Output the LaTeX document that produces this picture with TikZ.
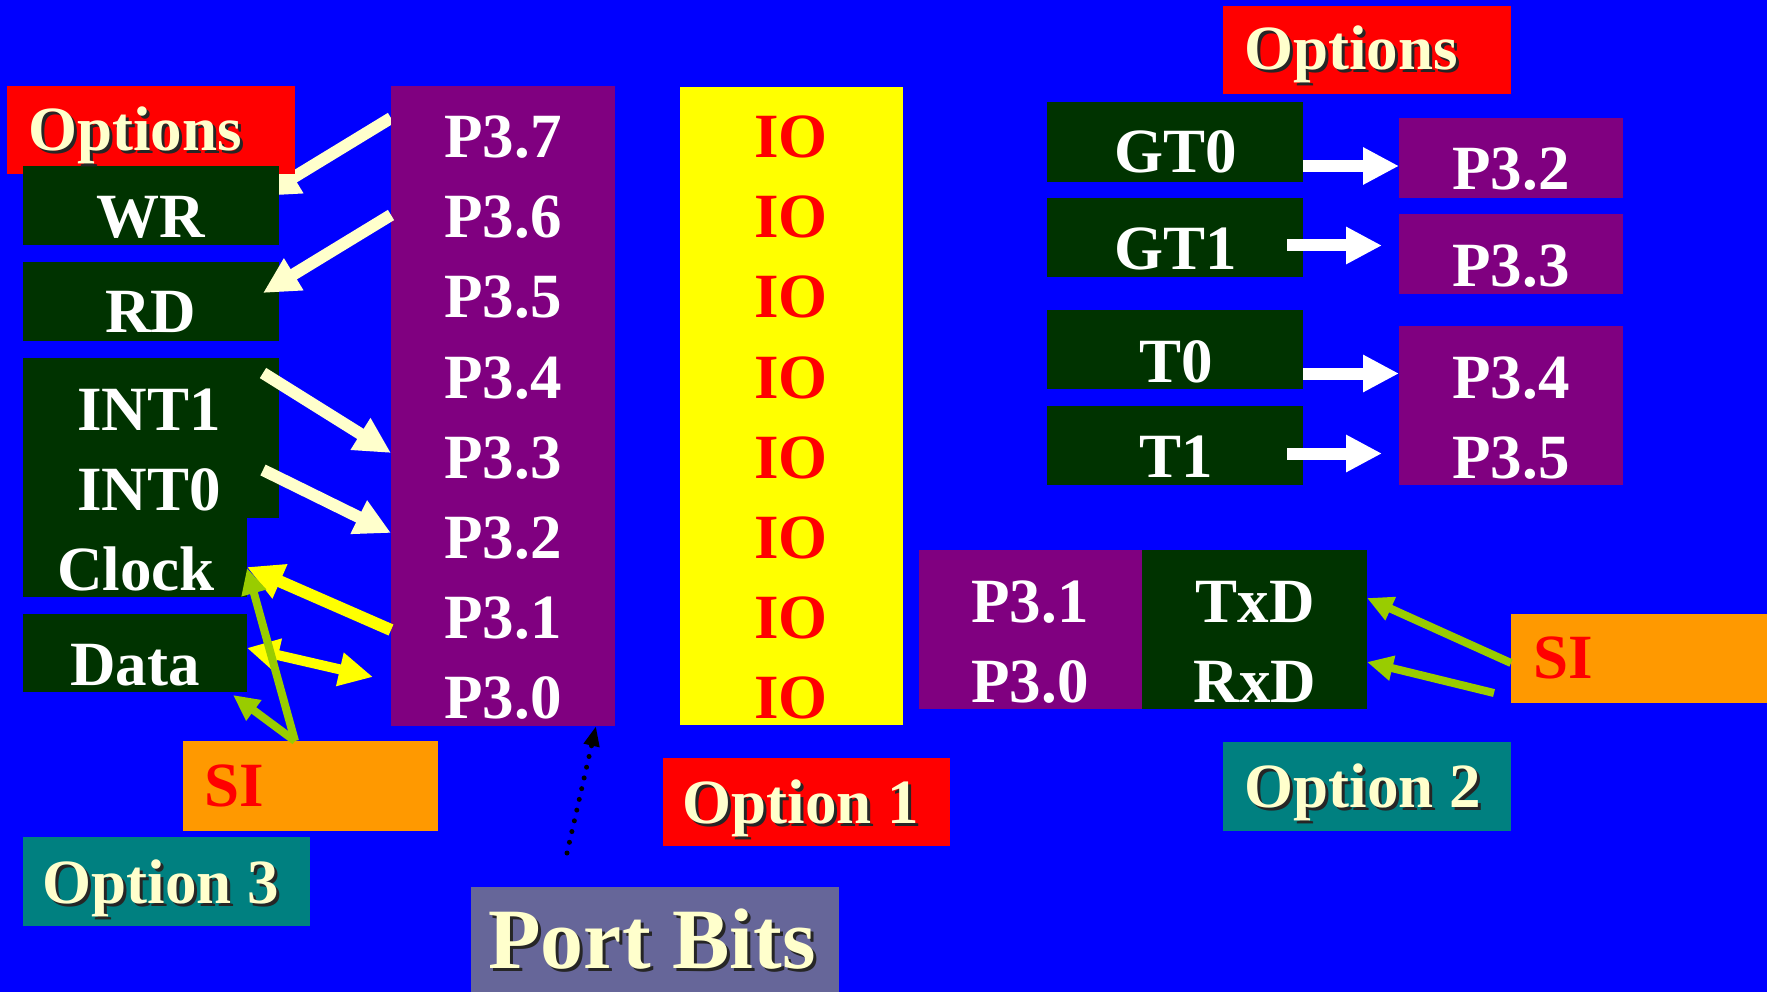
\documentclass[tikz,border=0pt]{standalone}
\usepackage{fontspec}
\setmainfont{Liberation Serif}
\usetikzlibrary{arrows.meta,calc}
\pgfdeclarelayer{bg}
\pgfdeclarelayer{under}
\pgfsetlayers{bg,under,main}

\definecolor{bgblue}{HTML}{0000FF}
\definecolor{optred}{HTML}{FF0000}
\definecolor{dkgreen}{HTML}{003300}
\definecolor{purp}{HTML}{800080}
\definecolor{ioyel}{HTML}{FFFF00}
\definecolor{siorange}{HTML}{FF9900}
\definecolor{tealbox}{HTML}{008080}
\definecolor{slate}{HTML}{666699}
\definecolor{ltyel}{HTML}{FFFFCC}
\definecolor{sigreen}{HTML}{99CC00}

% light text with a dark drop shadow
\newcommand\shadowtxt[1]{\makebox[0pt][l]{\hspace{3pt}\raisebox{-3pt}[0pt][0pt]{\textcolor{black!85}{#1}}}#1}

\begin{document}
\begin{tikzpicture}[x=1pt,y=-1pt,
  box/.style={inner sep=0pt, outer sep=0pt, anchor=north west, draw=none},
  lbl/.style={inner sep=0pt, anchor=base, font=\bfseries\fontsize{63}{63}\selectfont},
  lblw/.style={lbl, text=white},
  lblo/.style={lbl, text=ltyel},
  lblr/.style={lbl, text=optred},
  blockarrow/.style={line width=12pt, -{Triangle[width=35pt,length=36pt]}},
  siarrow/.style={line width=8pt, draw=sigreen, -{Triangle[width=24pt,length=26pt]}},
]
\begin{pgfonlayer}{bg}
\fill[bgblue] (0,0) rectangle (1767,992);
\end{pgfonlayer}
\useasboundingbox (0,0) rectangle (1767,992);

% ---- left group ----
\node[box, fill=optred, minimum width=288pt, minimum height=88pt] (optL) at (7,86) {};
\node[box, fill=dkgreen, minimum width=256pt, minimum height=79pt] (wr) at (23,166) {};
\node[box, fill=dkgreen, minimum width=256pt, minimum height=79pt] (rd) at (23,262) {};
\node[box, fill=dkgreen, minimum width=256pt, minimum height=160pt] (int) at (23,358) {};
\node[box, fill=dkgreen, minimum width=224pt, minimum height=80pt] (clk) at (23,517) {};
\node[box, fill=dkgreen, minimum width=224pt, minimum height=78pt] (data) at (23,614) {};
\node[box, fill=siorange, minimum width=255pt, minimum height=90pt] (siL) at (183,741) {};
\node[box, fill=tealbox, minimum width=287pt, minimum height=89pt] (opt3) at (23,837) {};

% ---- port columns ----
\node[box, fill=purp, minimum width=224pt, minimum height=640pt] (col) at (391,86) {};
\node[box, fill=ioyel, minimum width=223pt, minimum height=638pt] (io) at (680,87) {};
\node[box, fill=optred, minimum width=287pt, minimum height=88pt] (opt1) at (663,758) {};
\node[box, fill=slate, minimum width=368pt, minimum height=105pt] (port) at (471,887) {};

% ---- right group ----
\node[box, fill=optred, minimum width=288pt, minimum height=88pt] (optR) at (1223,6) {};
\node[box, fill=dkgreen, minimum width=256pt, minimum height=80pt] (gt0) at (1047,102) {};
\node[box, fill=dkgreen, minimum width=256pt, minimum height=79pt] (gt1) at (1047,198) {};
\node[box, fill=dkgreen, minimum width=256pt, minimum height=79pt] (t0) at (1047,310) {};
\node[box, fill=dkgreen, minimum width=256pt, minimum height=79pt] (t1) at (1047,406) {};
\node[box, fill=purp, minimum width=224pt, minimum height=80pt] (p32box) at (1399,118) {};
\node[box, fill=purp, minimum width=224pt, minimum height=80pt] (p33box) at (1399,214) {};
\node[box, fill=purp, minimum width=224pt, minimum height=159pt] (p345box) at (1399,326) {};
\node[box, fill=purp, minimum width=223pt, minimum height=159pt] (ser) at (919,550) {};
\node[box, fill=dkgreen, minimum width=225pt, minimum height=159pt] (txrx) at (1142,550) {};
\node[box, fill=siorange, minimum width=256pt, minimum height=89pt] (siR) at (1511,614) {};
\node[box, fill=tealbox, minimum width=288pt, minimum height=89pt] (opt2) at (1223,742) {};

% ---- labels ----
\node[lblo] (tOptL) at (135,151) {\shadowtxt{Options}};
\node[lblw] (tWR) at (151,238) {WR};
\node[lblw] (tRD) at (151,333) {RD};
\node[lblw] (tINT1) at (149,430) {INT1};
\node[lblw] (tINT0) at (149,510) {INT0};
\node[lblw] (tClk) at (136,590) {Clock};
\node[lblw] (tData) at (135,685) {Data};
\node[lblr, anchor=base west] (tSIL) at (204,806) {SI};
\node[lblo] (tOpt3) at (161,903) {\shadowtxt{Option 3}};

\foreach \i [count=\k from 0] in {7,6,5,4,3,2,1,0} {
  \node[lblw] (p3\i) at (503,{158+80*\k}) {P3.\i};
  \node[lblr] (io\i) at (791,{158+80*\k}) {IO};
}
\node[lblo] (tOpt1) at (801,823) {\shadowtxt{Option 1}};
\node[lblo, font=\bfseries\fontsize{86}{86}\selectfont] (tPort) at (652,968) {\shadowtxt{Port Bits}};

\node[lblo] (tOptR) at (1351,70) {\shadowtxt{Options}};
\node[lblw] (tGT0) at (1176,173) {GT0};
\node[lblw] (tGT1) at (1176,270) {GT1};
\node[lblw] (tT0) at (1176,382) {T0};
\node[lblw] (tT1) at (1176,477) {T1};
\node[lblw] (tP32) at (1511,190) {P3.2};
\node[lblw] (tP33) at (1511,287) {P3.3};
\node[lblw] (tP34) at (1511,398) {P3.4};
\node[lblw] (tP35) at (1511,478) {P3.5};
\node[lblw] (tP31s) at (1030,622) {P3.1};
\node[lblw] (tP30s) at (1030,702) {P3.0};
\node[lblw] (tTxD) at (1255,622) {TxD};
\node[lblw] (tRxD) at (1255,702) {RxD};
\node[lblr, anchor=base west] (tSIR) at (1533,678) {SI};
\node[lblo] (tOpt2) at (1363,807) {\shadowtxt{Option 2}};

% ---- connectors, left group ----
% the WR arrow runs beneath the Options and WR boxes
\begin{pgfonlayer}{under}
\draw[blockarrow, draw=ltyel] ([yshift=-32pt]col.north west) -- ([xshift=-16pt,yshift=-30pt]wr.north east);
\end{pgfonlayer}
\draw[blockarrow, draw=ltyel] ([yshift=-129pt]col.north west) -- ([xshift=-16pt,yshift=-31pt]rd.north east);
\draw[blockarrow, draw=ltyel] ([xshift=-16pt,yshift=-15pt]int.north east) -- ([yshift=-367pt]col.north west);
\draw[blockarrow, draw=ltyel] ([xshift=-16pt,yshift=-112pt]int.north east) -- ([yshift=-447pt]col.north west);
\draw[blockarrow, draw=ioyel] ([yshift=-544pt]col.north west) -- ([yshift=-50pt]clk.north east);
\draw[line width=10pt, draw=ioyel, {Triangle[width=32pt,length=32pt]}-{Triangle[width=32pt,length=34pt]}]
  ([yshift=-34pt]data.north east) -- ([xshift=-18pt,yshift=-591pt]col.north west);
\draw[siarrow] ([xshift=112pt]siL.north west) -- ([yshift=-51pt]clk.north east);
\draw[siarrow] ([xshift=112pt]siL.north west) -- ([xshift=-14pt,yshift=-3pt]data.south east);

% dotted pointer from the caption to the port column
\draw[line width=5pt, line cap=round, dash pattern=on 0pt off 11pt, -{Triangle[width=15pt,length=20pt]}]
  ([xshift=96pt,yshift=34pt]port.north west) -- ([xshift=205pt]col.south west);

% ---- connectors, right group ----
\draw[blockarrow, draw=white] ([yshift=-24pt]gt0.east) -- ([yshift=-24pt]gt0.east -| p32box.west);
\draw[blockarrow, draw=white] ([xshift=-16pt,yshift=-8pt]gt1.east) -- ([xshift=-17pt,yshift=-8pt]gt1.east -| p33box.west);
\draw[blockarrow, draw=white] ([yshift=-24pt]t0.east) -- ([yshift=-24pt]t0.east -| p345box.west);
\draw[blockarrow, draw=white] ([xshift=-16pt,yshift=-8pt]t1.east) -- ([xshift=-17pt,yshift=-8pt]t1.east -| p345box.west);
\draw[siarrow] ([yshift=-49pt]siR.north west) -- ([yshift=-48pt]txrx.north east);
\draw[siarrow] ([xshift=-17pt,yshift=-79pt]siR.north west) -- ([yshift=-112pt]txrx.north east);
\end{tikzpicture}
\end{document}
